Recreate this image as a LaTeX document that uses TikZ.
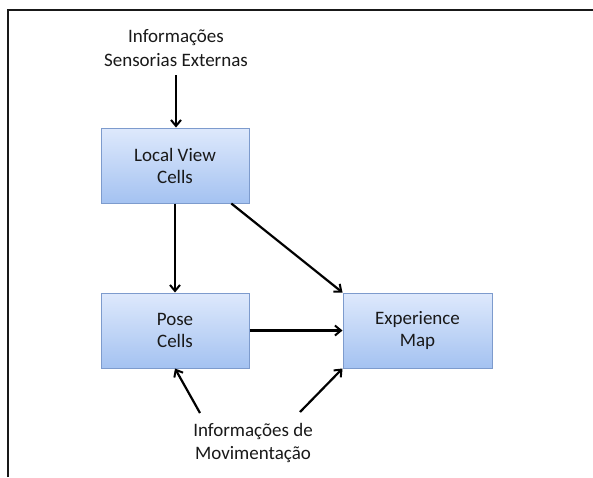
\documentclass[tikz,border=0pt]{standalone}
\usepackage{fontspec}
\setmainfont{Carlito}
\usetikzlibrary{arrows.meta,calc,shadows}
\definecolor{boxtop}{RGB}{222,233,252}
\definecolor{boxbot}{RGB}{164,194,241}
\definecolor{boxline}{RGB}{125,155,205}
\begin{document}
\begin{tikzpicture}[x=1pt,y=-1pt,
  blockbox/.style={draw=boxline,line width=1pt,top color=boxtop,bottom color=boxbot,
    minimum width=148pt,minimum height=75pt,inner sep=0pt,align=center,
    font=\fontsize{19}{22}\selectfont,text=black!90,
    drop shadow={opacity=0.25,shadow xshift=1.2pt,shadow yshift=-1.2pt}},
  lbl/.style={align=center,font=\fontsize{19}{23.5}\selectfont,text=black!90,inner sep=0pt},
  arr/.style={line width=2.2pt,-{Straight Barb[length=6pt,width=10pt,line width=2pt]}}]
\useasboundingbox (0,0) rectangle (593,477);
\fill[white] (0,0) rectangle (593,477);
\draw[line width=2pt,black!90] (7.5,477) -- (7.5,9.5) -- (593,9.5);

\node[lbl] (sens) at (176,48) {Informações\\Sensorias Externas};
\node[blockbox] (lvc) at (175,165.5) {Local View\\Cells};
\node[blockbox] (pose) at (175,330.5) {Pose\\Cells};
\node[blockbox,minimum width=149pt] (exp) at (417.5,330.5) {Experience\\Map};
\node[lbl] (mov) at (253,443) {Informações de\\Movimentação};

\coordinate (sensend) at (176,75);
\coordinate (movl) at (200,413);
\coordinate (movr) at (300,412);
\coordinate (lvcdiag) at ($(lvc.south west)!0.878!(lvc.south east)$);

\draw[arr] (sensend) -- (sensend |- lvc.north);
\draw[arr] (lvc.south) -- (pose.north);
\draw[arr] (lvcdiag) -- (exp.north west);
\draw[arr] (pose.east) -- (exp.west);
\draw[arr] (movl) -- (pose.south);
\draw[arr] (movr) -- (exp.south west);
\end{tikzpicture}
\end{document}
